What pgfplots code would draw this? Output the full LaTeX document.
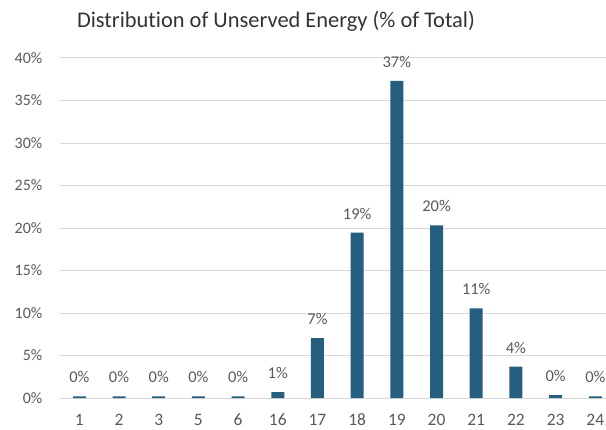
\documentclass[border=0pt]{standalone}
\usepackage{pgfplots}
\pgfplotsset{compat=1.18}
\usepackage{fontspec}
\setmainfont{Carlito}[Ligatures=NoCommon]
\definecolor{barc}{HTML}{255E7E}
\definecolor{txt}{HTML}{595959}
\definecolor{gridc}{HTML}{D9D9D9}
\begin{document}
\begin{tikzpicture}[x=1bp,y=1bp]
\useasboundingbox (0,0) rectangle (606,429);
\node[anchor=base, text=black!80, inner sep=0pt, font=\fontsize{22.5}{26}\selectfont] at (276,401) {Distribution of Unserved Energy (\% of Total)};
\begin{axis}[
  at={(59.5bp,31bp)}, anchor=south west,
  scale only axis, width=546.5bp, height=340bp,
  xmin=-0.5, xmax=13.27, ymin=0, ymax=40,
  axis line style={draw=none},
  major tick length=0pt,
  ymajorgrids, grid style={gridc, line width=1bp},
  ytick={0,5,...,40},
  yticklabels={0\%,5\%,10\%,15\%,20\%,25\%,30\%,35\%,40\%},
  yticklabel style={anchor=east, inner sep=0pt, xshift=-17bp, text=txt, font=\fontsize{16}{18}\selectfont},
  xtick={0,...,13},
  xticklabels={1,2,3,5,6,16,17,18,19,20,21,22,23,24},
  xticklabel style={anchor=base, inner sep=0pt, yshift=-27bp, text=txt, font=\fontsize{17.5}{20}\selectfont},
  ybar, bar width=13bp,
  point meta=explicit symbolic,
  nodes near coords,
  every node near coord/.append style={anchor=base, inner sep=0pt, yshift=13.5bp, text=txt, font=\fontsize{16.5}{18}\selectfont},
  clip=false,
]
\addplot[draw=none, fill=barc] coordinates {
(0,0.2) [0\%]
(1,0.2) [0\%]
(2,0.2) [0\%]
(3,0.2) [0\%]
(4,0.2) [0\%]
(5,0.7) [1\%]
(6,7.05) [7\%]
(7,19.45) [19\%]
(8,37.3) [37\%]
(9,20.3) [20\%]
(10,10.55) [11\%]
(11,3.7) [4\%]
(12,0.35) [0\%]
(13,0.2) [0\%]
};
\end{axis}
\end{tikzpicture}
\end{document}
